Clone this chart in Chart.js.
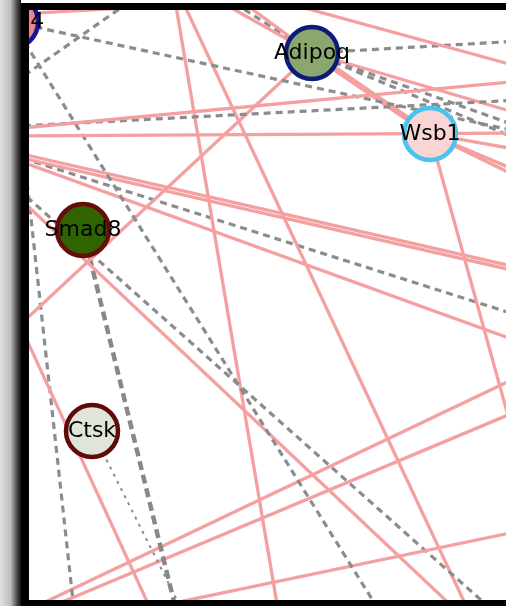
<!DOCTYPE html>
<html>
<head>
<meta charset="utf-8">
<script src="https://cdn.jsdelivr.net/npm/chart.js@4"></script>
<style>
  html, body { margin: 0; padding: 0; background: #fff; }
  #wrap { width: 506px; height: 606px; }
</style>
</head>
<body>
<div id="wrap"><canvas id="net" width="506" height="606"></canvas></div>
<script>
// named genes shown in the view
const nodeNames = ['Bmp4', 'Adipoq', 'Wsb1', 'Smad8', 'Ctsk'];
const nodeX = [12, 312, 430, 83, 92];
const nodeY = [22, 53, 134, 230, 431];

// partners that sit outside the visible crop
const anchorNames = ['a1','a2','a3','a4','a5','a6','a7','a8','a9','a10','a11','a12','a13','a14','a15','a16','a17','a18','a19','a20',
  'a21','a22','a23','a24','a25','a26','a27','a28','a29','a30','a31','a32','a33','a34','a35','a36','a37','a38','a39','a40',
  'a41','a42','a43','a44','a45','a46','a47','a48','a49','a50','a51','a52'];
const anchorX = [0, 520, 0, 520, 0, 520, 520, 380, -5, 135, 0, 180, 199, 226, 214, 20, 150, 520, 250, 520,
  520, 520, 520, 520, 520, 520, 520, 512, 0, 456, 0, 490, 176, 18, 74, 182, 20, 520, 55, 520,
  175, 278, 182, 468, 0, 520, 0, 520, 0, 520, 0, 520];
const anchorY = [130, 81, 136, 133, 127, 100, 132, 612, 96, -2, 15, 5, -10, -10, -10, 325, 608, 531, -7, 67,
  114, 41, 127, 140, 150, 172, 178, 430, 180, 610, 173, 608, 610, 100, 610, 610, 614, 376, 605, 410,
  0, 610, 0, 610, 149, 268, 153, 272, 154, 342, 151, 316];

// interactions: solid = 'pink', dashed = 'dash'
const edgeFrom = ['a1','a3','a5','Bmp4','Bmp4','a9','a11','a13','a14','a15','Adipoq','a16','a17','a19','Adipoq','Adipoq','Adipoq','Adipoq','Adipoq',
  'Wsb1','Wsb1','Wsb1','Wsb1','a29','a31','Smad8','a34','Ctsk','a37','a39','a41','a43','a45','a47','a49','a51'];
const edgeTo = ['a2','a4','a6','a7','a8','a10','a12','Adipoq','Adipoq','Adipoq','a16','a17','a18','a20','a21','a22','a23','a24','Wsb1',
  'a25','a26','a27','a28','a30','a32','a33','a35','a36','a38','a40','a42','a44','a46','a48','a50','a52'];
const edgeKind = ['pink','pink','dash','dash','dash','dash','pink','pink','pink','dash','pink','pink','pink','pink','pink','dash','dash','dash','pinkwide',
  'pink','pink','pink','pink','pink','dash','thickdash','dash','dot','pink','pink','pink','pink','pink','pink','pink','dash'];

const edgeStyle = {
  pink:      { color: '#f4a0a0', width: 3.3, dash: [] },
  pinkwide:  { color: '#f4a0a0', width: 6,   dash: [] },
  dash:      { color: '#8c8c8c', width: 3.2, dash: [7, 5] },
  thickdash: { color: '#888888', width: 4.5, dash: [9, 5] },
  dot:       { color: '#8c8c8c', width: 2,   dash: [3, 5] }
};
const nodeStyle = {
  Bmp4:   { fill: '#f08585', border: '#14149c' },
  Adipoq: { fill: '#8ca670', border: '#0b1c78' },
  Wsb1:   { fill: '#fad5d5', border: '#48c4ee' },
  Smad8:  { fill: '#2f6400', border: '#680b0b' },
  Ctsk:   { fill: '#dfe6d8', border: '#600a0a' }
};

function pos(name) {
  let i = nodeNames.indexOf(name);
  if (i >= 0) return { x: nodeX[i], y: nodeY[i] };
  i = anchorNames.indexOf(name);
  return { x: anchorX[i], y: anchorY[i] };
}

const edgeSets = edgeFrom.map((f, i) => {
  const st = edgeStyle[edgeKind[i]];
  return {
    type: 'line',
    data: [pos(f), pos(edgeTo[i])],
    borderColor: st.color,
    borderWidth: st.width,
    borderDash: st.dash,
    borderCapStyle: 'butt',
    pointRadius: 0,
    showLine: true,
    fill: false,
    clip: 0,
    order: 2
  };
});

const nodeSet = {
  type: 'scatter',
  data: nodeNames.map((n, i) => ({ x: nodeX[i], y: nodeY[i] })),
  pointRadius: 26,
  pointBorderWidth: 4.5,
  pointBackgroundColor: nodeNames.map(n => nodeStyle[n].fill),
  pointBorderColor: nodeNames.map(n => nodeStyle[n].border),
  clip: 0,
  order: 1
};

const labelPlugin = {
  id: 'nodeLabels',
  afterDatasetsDraw(chart) {
    const { ctx, chartArea, scales } = chart;
    ctx.save();
    ctx.beginPath();
    ctx.rect(chartArea.left, chartArea.top, chartArea.right - chartArea.left, chartArea.bottom - chartArea.top);
    ctx.clip();
    ctx.font = '22px "DejaVu Sans"';
    ctx.fillStyle = '#000';
    ctx.textAlign = 'center';
    ctx.textBaseline = 'middle';
    nodeNames.forEach((n, i) => {
      ctx.fillText(n, scales.x.getPixelForValue(nodeX[i]), scales.y.getPixelForValue(nodeY[i]));
    });
    ctx.restore();
  }
};

const framePlugin = {
  id: 'frame',
  beforeDraw(chart) {
    const ctx = chart.ctx;
    ctx.save();
    ctx.fillStyle = '#fff';
    ctx.fillRect(0, 0, 506, 606);
    const g = ctx.createLinearGradient(0, 0, 21, 0);
    g.addColorStop(0, '#e2e2e2');
    g.addColorStop(0.5, '#bcbcbc');
    g.addColorStop(0.78, '#555');
    g.addColorStop(1, '#111');
    ctx.fillStyle = g;
    ctx.fillRect(0, 0, 21, 606);
    ctx.restore();
  },
  afterDraw(chart) {
    const ctx = chart.ctx;
    ctx.save();
    ctx.fillStyle = '#000';
    ctx.fillRect(21, 3, 485, 7);
    ctx.fillRect(21, 3, 8, 603);
    ctx.fillRect(21, 600, 485, 6);
    ctx.restore();
  }
};

new Chart(document.getElementById('net'), {
  type: 'scatter',
  data: { datasets: [nodeSet, ...edgeSets] },
  options: {
    responsive: false,
    animation: false,
    layout: { autoPadding: false, padding: { left: 29, top: 10, right: 0, bottom: 6 } },
    scales: {
      x: { type: 'linear', min: 29, max: 506, display: false },
      y: { type: 'linear', min: 10, max: 600, reverse: true, display: false }
    },
    plugins: {
      legend: { display: false },
      tooltip: { enabled: false }
    }
  },
  plugins: [framePlugin, labelPlugin]
});
</script>
</body>
</html>
